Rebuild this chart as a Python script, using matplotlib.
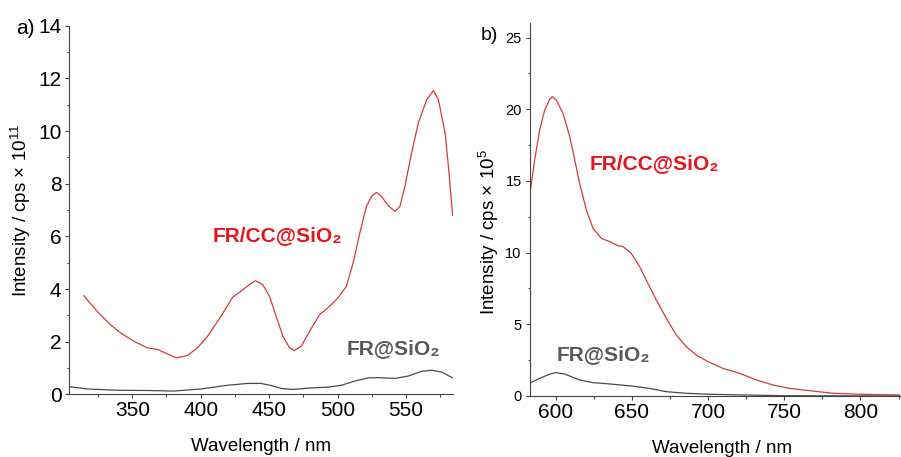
import numpy as np
import matplotlib
matplotlib.use("Agg")
import matplotlib.pyplot as plt
from matplotlib.ticker import MultipleLocator

plt.rcParams['font.family'] = ['Liberation Sans', 'DejaVu Sans']
plt.rcParams['mathtext.fontset'] = 'custom'
plt.rcParams['mathtext.rm'] = 'Liberation Sans'
plt.rcParams['mathtext.default'] = 'regular'

# panel a: intensity (x 10^11 cps) vs wavelength (nm)
wl_a_red = [314.6, 324.3, 334, 341.4, 351.2, 361, 368.3, 375.6, 382.3, 390.3, 397.6, 405, 414.8,
            423.3, 429.4, 435.5, 439.9, 445.3, 450.2, 455.1, 460, 464.9, 468.5, 473.4, 479.5,
            486.8, 492.9, 500.3, 506.4, 511.3, 516.2, 521, 524.7, 528.4, 532, 536.9, 541.8,
            545.5, 549.1, 554, 558.9, 565, 569.9, 573.6, 578.5, 580.9, 584]
int_a_red = [3.75, 3.16, 2.65, 2.34, 2.02, 1.77, 1.71, 1.54, 1.39, 1.48, 1.77, 2.21, 2.97,
             3.69, 3.92, 4.17, 4.32, 4.17, 3.73, 2.97, 2.21, 1.77, 1.67, 1.83, 2.40,
             3.03, 3.29, 3.67, 4.11, 4.99, 6.13, 7.14, 7.52, 7.67, 7.52, 7.17, 6.95,
             7.14, 7.90, 9.17, 10.30, 11.19, 11.54, 11.19, 9.92, 8.66, 6.8]

wl_a_gray = [304.8, 317, 339, 363.4, 380.5, 400, 419.6, 434.3, 444, 451.4, 458.7, 467.3,
             478.3, 493, 502.7, 512.5, 522.3, 529.6, 541.8, 551.6, 561.4, 568.7, 576, 584]
int_a_gray = [0.29, 0.21, 0.16, 0.15, 0.13, 0.21, 0.35, 0.42, 0.42, 0.34, 0.23, 0.19,
              0.24, 0.28, 0.35, 0.51, 0.63, 0.64, 0.61, 0.70, 0.88, 0.92, 0.85, 0.63]

# panel b: intensity (x 10^5 cps) vs wavelength (nm)
wl_b_red = [583.6, 586.2, 589.5, 592.8, 596.1, 597.8, 600.4, 604.8, 609.2, 612.5, 615.7,
            620.1, 624.5, 629.9, 635.4, 639.8, 644.2, 649.6, 655.1, 660.5, 666, 672.6,
            679.1, 685.7, 692.2, 699.9, 709.7, 720.7, 731.6, 742.5, 753.4, 766.6, 781.9,
            799.3, 826]
int_b_red = [14.49, 16.47, 18.56, 19.95, 20.70, 20.88, 20.65, 19.72, 18.09, 16.47, 14.84,
             12.98, 11.70, 11.0, 10.77, 10.53, 10.42, 9.95, 9.02, 7.86, 6.70, 5.42,
             4.26, 3.44, 2.86, 2.40, 1.93, 1.58, 1.12, 0.77, 0.53, 0.37, 0.19,
             0.12, 0.07]

wl_b_gray = [583.6, 589.5, 596.1, 600, 605.9, 615.7, 624.5, 635.4, 649.6, 661.6, 672.6,
             685.7, 701, 722.8, 749, 826]
int_b_gray = [0.93, 1.23, 1.53, 1.63, 1.53, 1.12, 0.93, 0.84, 0.70, 0.53, 0.30,
              0.19, 0.12, 0.07, 0.02, 0.0]

red_line = '#d43a3a'
red_text = '#e8141c'
gray_line = '#4a4a4a'
gray_text = '#595959'
axis_col = '#444444'

fig = plt.figure(figsize=(9.01, 4.57), dpi=100)
ax1 = fig.add_axes([0.0769, 0.1368, 0.4255, 0.807])
ax2 = fig.add_axes([0.588, 0.1335, 0.411, 0.8155])

for ax in (ax1, ax2):
    for s in ('top', 'right'):
        ax.spines[s].set_visible(False)
    for s in ('left', 'bottom'):
        ax.spines[s].set_color(axis_col)
        ax.spines[s].set_linewidth(0.8)
    ax.tick_params(which='both', direction='out', color=axis_col, width=0.8)
    ax.tick_params(which='major', length=3.2)
    ax.tick_params(which='minor', length=1.8)
    ax.tick_params(axis='x', labelsize=15, pad=1.5)

# panel a
ax1.plot(wl_a_red, int_a_red, color=red_line, lw=0.9)
ax1.plot(wl_a_gray, int_a_gray, color=gray_line, lw=0.9)
ax1.set_xlim(304, 584)
ax1.set_ylim(0, 14)
ax1.xaxis.set_major_locator(MultipleLocator(50))
ax1.xaxis.set_minor_locator(MultipleLocator(25))
ax1.yaxis.set_major_locator(MultipleLocator(2))
ax1.yaxis.set_minor_locator(MultipleLocator(1))
ax1.tick_params(axis='y', labelsize=15, pad=2.4)
ax1.set_xlabel('Wavelength / nm', fontsize=13.5)
ax1.set_ylabel('Intensity / cps × 10$^{11}$', fontsize=13.5)
ax1.yaxis.set_label_coords(-0.094, 0.5)
ax1.xaxis.set_label_coords(0.5, -0.117)
ax1.text(455.8, 6.02, 'FR/CC@SiO₂', color=red_text, fontsize=15, fontweight='bold',
         ha='center', va='center')
ax1.text(540.8, 1.74, 'FR@SiO₂', color=gray_text, fontsize=15, fontweight='bold',
         ha='center', va='center')
fig.text(16 / 901, 1 - 29 / 457, 'a)', fontsize=15, va='center', ha='left')

# panel b
ax2.plot(wl_b_red, int_b_red, color=red_line, lw=0.9)
ax2.plot(wl_b_gray, int_b_gray, color=gray_line, lw=0.9)
ax2.set_xlim(583, 826)
ax2.set_ylim(0, 26)
ax2.xaxis.set_major_locator(MultipleLocator(50))
ax2.xaxis.set_minor_locator(MultipleLocator(25))
ax2.yaxis.set_major_locator(MultipleLocator(5))
ax2.yaxis.set_minor_locator(MultipleLocator(2.5))
ax2.tick_params(axis='y', labelsize=10.5, pad=2.6)
ax2.set_xlabel('Wavelength / nm', fontsize=13.5)
ax2.set_ylabel('Intensity / cps × 10$^{5}$', fontsize=13.5)
ax2.yaxis.set_label_coords(-0.077, 0.44)
ax2.xaxis.set_label_coords(0.52, -0.118)
ax2.text(664.9, 16.2, 'FR/CC@SiO₂', color=red_text, fontsize=15, fontweight='bold',
         ha='center', va='center')
ax2.text(631.5, 2.86, 'FR@SiO₂', color=gray_text, fontsize=15, fontweight='bold',
         ha='center', va='center')
fig.text(481 / 901, 1 - 36 / 457, 'b)', fontsize=14, va='center', ha='left')

fig.savefig('out.png', dpi=100)
